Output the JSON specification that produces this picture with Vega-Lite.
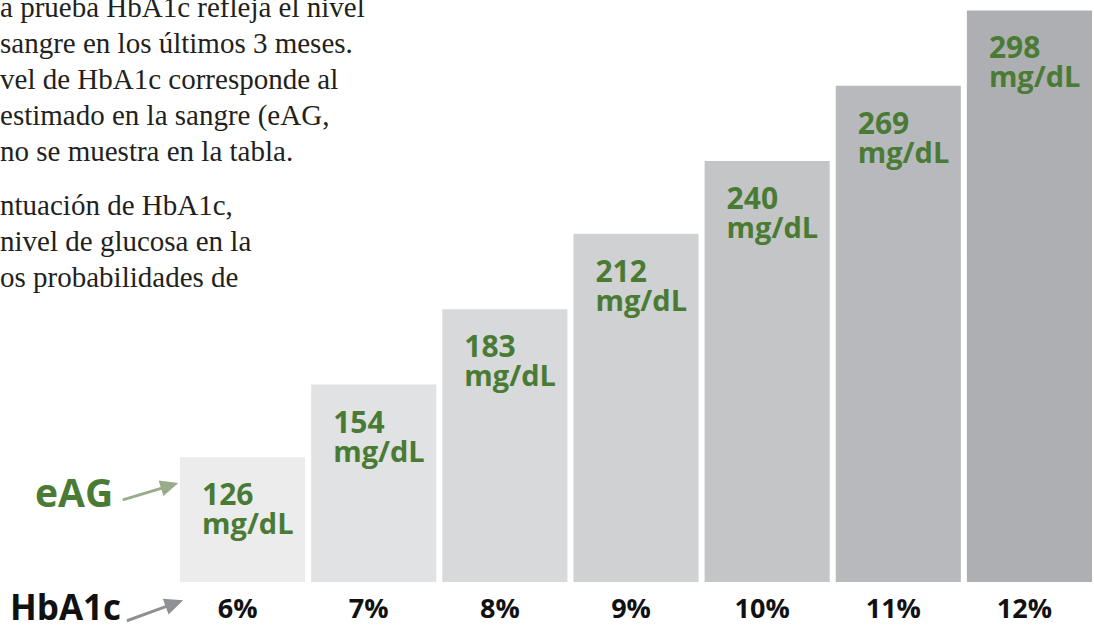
{
  "$schema": "https://vega.github.io/schema/vega-lite/v6.json",
  "width": 1094,
  "height": 582,
  "autosize": {"type": "none"},
  "padding": {"left": 0, "top": 0, "right": 0, "bottom": 44},
  "background": "white",
  "config": {"view": {"stroke": null}},
  "data": {
    "values": [
      {"hba1c": "6%", "eag": 126},
      {"hba1c": "7%", "eag": 154},
      {"hba1c": "8%", "eag": 183},
      {"hba1c": "9%", "eag": 212},
      {"hba1c": "10%", "eag": 240},
      {"hba1c": "11%", "eag": 269},
      {"hba1c": "12%", "eag": 298}
    ]
  },
  "layer": [
    {
      "mark": {"type": "bar"},
      "encoding": {
        "x": {
          "field": "hba1c", "type": "ordinal", "sort": null,
          "scale": {"paddingInner": 0.046, "paddingOuter": 0.694, "align": 0.989},
          "axis": {"title": null, "domain": false, "ticks": false, "labelAngle": 0, "labelFontSize": 27, "labelFontWeight": "bold", "labelFont": "Open Sans", "labelColor": "#111111", "labelPadding": 14, "labelOffset": -5, "zindex": 1}
        },
        "y": {"field": "eag", "type": "quantitative", "scale": {"domain": [78, 302], "zero": false, "nice": false, "clamp": true}, "axis": null},
        "color": {
          "field": "hba1c", "type": "nominal",
          "scale": {"domain": ["6%", "7%", "8%", "9%", "10%", "11%", "12%"], "range": ["#ececec", "#e1e2e4", "#d8d9db", "#d0d1d3", "#c4c5c7", "#b8b9bc", "#aeafb2"]},
          "legend": null
        }
      }
    },
    {
      "mark": {"type": "text", "align": "left", "baseline": "alphabetic", "dx": 22, "dy": 48, "font": "Open Sans", "fontWeight": "bold", "fontSize": 30, "letterSpacing": 1.5, "color": "#4a7b35"},
      "encoding": {
        "x": {"field": "hba1c", "type": "ordinal", "sort": null, "bandPosition": 0},
        "y": {"field": "eag", "type": "quantitative"},
        "text": {"field": "eag", "type": "quantitative"}
      }
    },
    {
      "mark": {"type": "text", "align": "left", "baseline": "alphabetic", "dx": 22, "dy": 77, "font": "Open Sans", "fontWeight": "bold", "fontSize": 29, "color": "#4a7b35", "text": "mg/dL"},
      "encoding": {
        "x": {"field": "hba1c", "type": "ordinal", "sort": null, "bandPosition": 0},
        "y": {"field": "eag", "type": "quantitative"}
      }
    },
    {
      "data": {"values": [{}]},
      "mark": {"type": "text", "align": "center", "baseline": "alphabetic", "dx": -106, "dy": -75, "font": "Open Sans", "fontWeight": "bold", "fontSize": 39, "color": "#4a7b35", "text": "eAG"},
      "encoding": {
        "x": {"datum": "6%", "type": "ordinal", "bandPosition": 0},
        "y": {"datum": 78, "type": "quantitative"}
      }
    },
    {
      "data": {"values": [{}]},
      "mark": {"type": "text", "align": "center", "baseline": "alphabetic", "dx": -114.5, "dy": 38, "font": "Open Sans", "fontWeight": "bold", "fontSize": 35, "color": "#111111", "text": "HbA1c"},
      "encoding": {
        "x": {"datum": "6%", "type": "ordinal", "bandPosition": 0},
        "y": {"datum": 78, "type": "quantitative"}
      }
    },
    {
      "data": {"values": [{}]},
      "mark": {"type": "point", "shape": "M-1,-0.05L0.38,-0.05L0.38,-0.28L1,0L0.38,0.28L0.38,0.05L-1,0.05Z", "size": 3364, "filled": true, "opacity": 1, "color": "#9aab8b", "angle": -17, "xOffset": -29.5, "yOffset": -90.5},
      "encoding": {
        "x": {"datum": "6%", "type": "ordinal", "bandPosition": 0},
        "y": {"datum": 78, "type": "quantitative"}
      }
    },
    {
      "data": {"values": [{}]},
      "mark": {"type": "point", "shape": "M-1,-0.05L0.38,-0.05L0.38,-0.28L1,0L0.38,0.28L0.38,0.05L-1,0.05Z", "size": 3580, "filled": true, "opacity": 1, "color": "#8e9094", "angle": -20, "xOffset": -25, "yOffset": 28.5},
      "encoding": {
        "x": {"datum": "6%", "type": "ordinal", "bandPosition": 0},
        "y": {"datum": 78, "type": "quantitative"}
      }
    },
    {
      "data": {"values": [{}]},
      "mark": {"type": "text", "align": "left", "baseline": "alphabetic", "dx": -180, "dy": 17, "font": "Liberation Serif", "fontSize": 29, "lineHeight": 36, "color": "#231f20",
        "text": ["a prueba HbA1c refleja el nivel", "sangre en los últimos 3 meses.", "vel de HbA1c corresponde al", "estimado en la sangre (eAG,", "no se muestra en la tabla."]},
      "encoding": {
        "x": {"datum": "6%", "type": "ordinal", "bandPosition": 0},
        "y": {"datum": 302, "type": "quantitative"}
      }
    },
    {
      "data": {"values": [{}]},
      "mark": {"type": "text", "align": "left", "baseline": "alphabetic", "dx": -180, "dy": 215, "font": "Liberation Serif", "fontSize": 29, "lineHeight": 36, "color": "#231f20",
        "text": ["ntuación de HbA1c,", "nivel de glucosa en la", "os probabilidades de"]},
      "encoding": {
        "x": {"datum": "6%", "type": "ordinal", "bandPosition": 0},
        "y": {"datum": 302, "type": "quantitative"}
      }
    }
  ]
}
